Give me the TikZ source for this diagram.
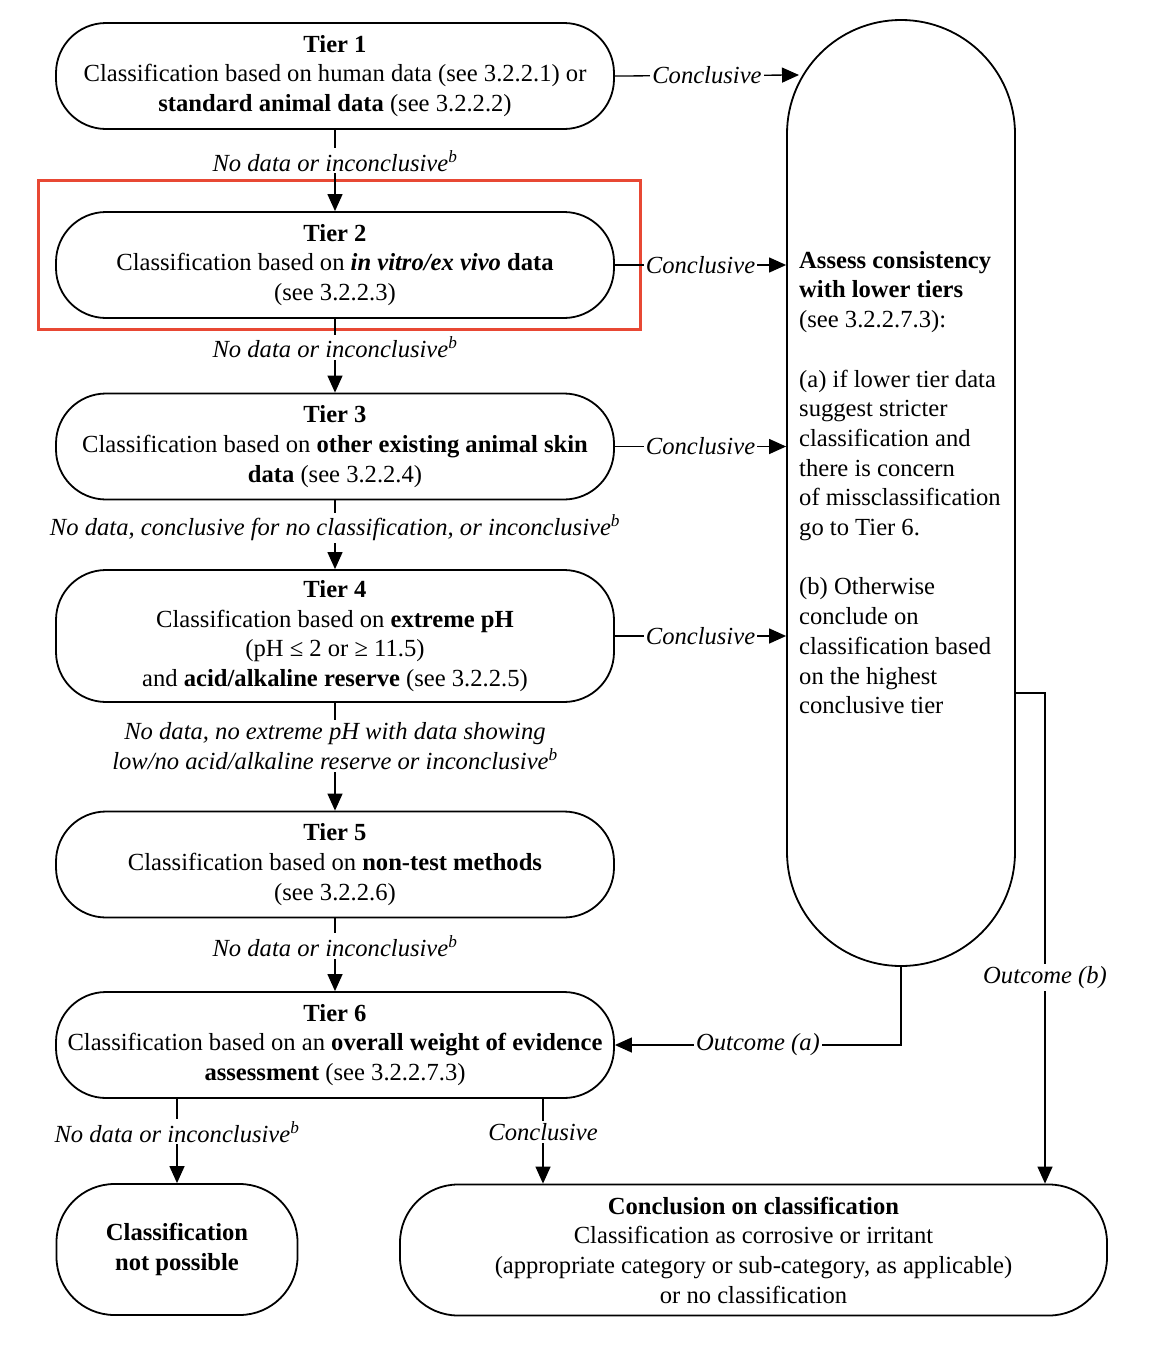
\documentclass[tikz,border=0pt]{standalone}
\usepackage{fontspec}
\setmainfont{Liberation Serif}
\usetikzlibrary{arrows.meta,calc}
\definecolor{hl}{RGB}{232,72,52}
\begin{document}
\begin{tikzpicture}[x=1pt,y=-1pt,
  every node/.style={font=\fontsize{24.6}{29.7}\selectfont},
  tierbox/.style={draw, line width=1.8pt, rounded corners=50pt, align=center,
    minimum width=558pt, minimum height=106pt, inner sep=0pt},
  arr/.style={line width=1.3pt, -{Triangle[length=17pt,width=15pt]}},
  lab/.style={fill=white, font=\fontsize{24.6}{29.7}\selectfont\itshape, inner sep=2pt, align=center},
]
\useasboundingbox (0,0) rectangle (1154,1352);

\node[tierbox] (t1) at (335,76) {\textbf{Tier 1}\\Classification based on human data (see 3.2.2.1) or\\\textbf{standard animal data} (see 3.2.2.2)};
\node[tierbox] (t2) at (335,265) {\textbf{Tier 2}\\Classification based on \textbf{\textit{in vitro/ex vivo}} \textbf{data}\\(see 3.2.2.3)};
\node[tierbox] (t3) at (335,446.5) {\textbf{Tier 3}\\Classification based on \textbf{other existing animal skin}\\\textbf{data} (see 3.2.2.4)};
\node[tierbox, minimum height=132pt] (t4) at (335,636) {\textbf{Tier 4}\\Classification based on \textbf{extreme pH}\\(pH ≤ 2 or ≥ 11.5)\\and \textbf{acid/alkaline reserve} (see 3.2.2.5)};
\node[tierbox] (t5) at (335,864.5) {\textbf{Tier 5}\\Classification based on \textbf{non-test methods}\\(see 3.2.2.6)};
\node[tierbox] (t6) at (335,1045) {\textbf{Tier 6}\\Classification based on an \textbf{overall weight of evidence}\\\textbf{assessment} (see 3.2.2.7.3)};
\node[tierbox, minimum width=241pt, minimum height=131pt, rounded corners=58pt] (np) at (177,1249.5) {\textbf{Classification}\\\textbf{not possible}};
\node[tierbox, minimum width=707pt, minimum height=131pt, rounded corners=58pt] (concl) at (753.5,1250) {\textbf{Conclusion on classification}\\Classification as corrosive or irritant\\(appropriate category or sub-category, as applicable)\\or no classification};

\node[draw, line width=1.8pt, rounded corners=113.9pt, minimum width=228pt, minimum height=946pt, inner sep=0pt] (pill) at (901,493) {};
\node[anchor=north west, align=left, inner sep=0pt] (ptxt) at (799,251) {\textbf{Assess consistency}\\\textbf{with lower tiers}\\(see 3.2.2.7.3):\\[29.7pt](a) if lower tier data\\suggest stricter\\classification and\\there is concern\\of missclassification\\go to Tier 6.\\[29.7pt](b) Otherwise\\conclude on\\classification based\\on the highest\\conclusive tier};

\draw[hl, line width=3pt] (38,180) rectangle (640,329);

\coordinate (c1) at (799,75);
\draw[arr] (t1.east) -- node[lab] {Conclusive} (c1);
\draw[arr] (t2.east) -- node[lab] {Conclusive} (t2.east -| pill.west);
\draw[arr] (t3.east) -- node[lab] {Conclusive} (t3.east -| pill.west);
\draw[arr] (t4.east) -- node[lab] {Conclusive} (t4.east -| pill.west);

\draw[arr] (t1.south) -- node[lab, pos=0.38] {No data or inconclusive\textsuperscript{b}} (t2.north);
\draw[arr] (t2.south) -- node[lab, pos=0.39] {No data or inconclusive\textsuperscript{b}} (t3.north);
\draw[arr] (t3.south) -- node[lab, pos=0.40] {No data, conclusive for no classification, or inconclusive\textsuperscript{b}} (t4.north);
\draw[arr] (t4.south) -- node[lab, pos=0.40] {No data, no extreme pH with data showing\\low/no acid/alkaline reserve or inconclusive\textsuperscript{b}} (t5.north);
\draw[arr] (t5.south) -- node[lab, pos=0.38] {No data or inconclusive\textsuperscript{b}} (t6.north);

\draw[arr] (t6.south -| np.north) -- node[lab, pos=0.39] {No data or inconclusive\textsuperscript{b}} (np.north);
\draw[arr] ([xshift=208pt]t6.south) -- node[lab, pos=0.39] {Conclusive} ([xshift=208pt]t6.south |- concl.north);

\draw[arr] (pill.south) -- (pill.south |- t6.east) -- node[lab] {Outcome (a)} (t6.east);
\coordinate (ob) at (1045,693);
\draw[arr] ([yshift=-200pt]pill.east) -- (ob) -- node[lab, pos=0.58] {Outcome (b)} (ob |- concl.north);
\end{tikzpicture}
\end{document}
